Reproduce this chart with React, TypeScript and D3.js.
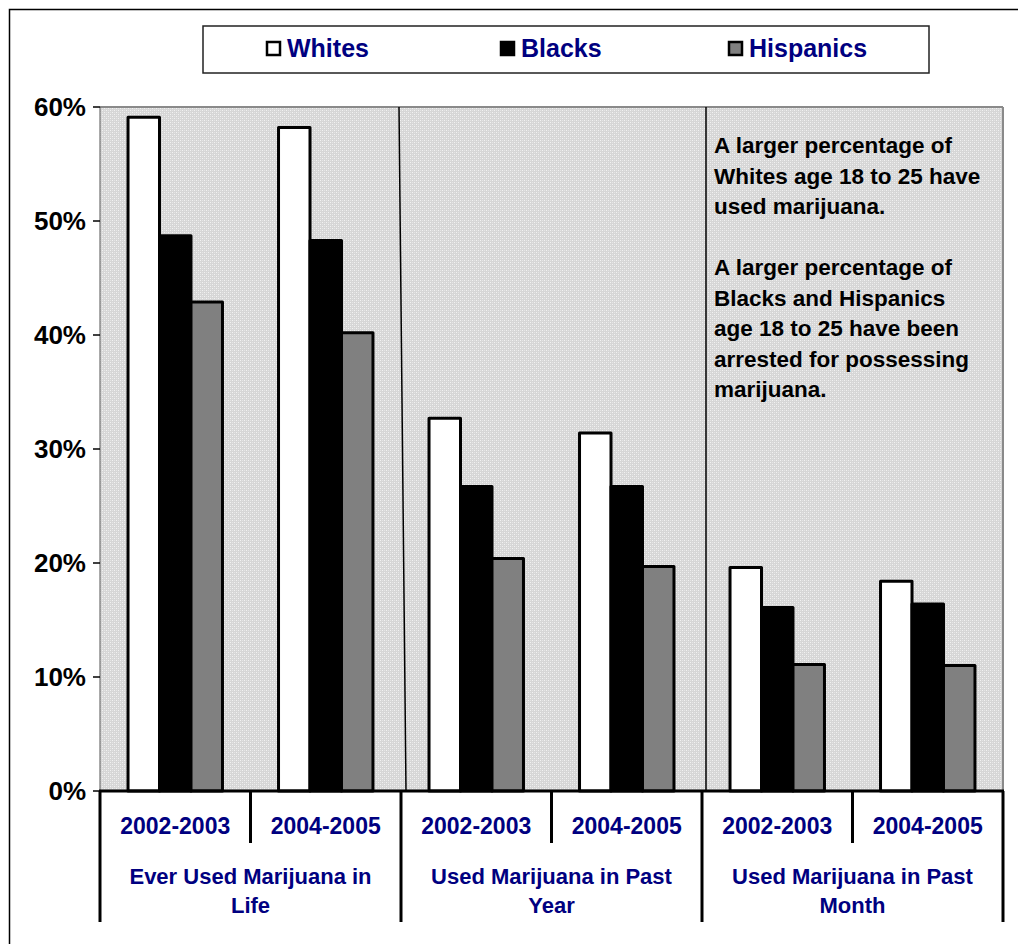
import React from "react";
import * as d3 from "d3";

// Marijuana use among people age 18 to 25, by race/ethnicity
const measures = ["Ever Used Marijuana in|Life", "Used Marijuana in Past|Year", "Used Marijuana in Past|Month"];
const periods = ["2002-2003", "2004-2005"];
const seriesNames = ["Whites", "Blacks", "Hispanics"];
const whites = [59.1, 58.2, 32.7, 31.4, 19.6, 18.4];
const blacks = [48.7, 48.3, 26.7, 26.7, 16.1, 16.4];
const hispanics = [42.9, 40.2, 20.4, 19.7, 11.1, 11.0];
const yTicks = [0, 10, 20, 30, 40, 50, 60];
const noteLines = [
  "A larger percentage of",
  "Whites age 18 to 25 have",
  "used marijuana.",
  "",
  "A larger percentage of",
  "Blacks and Hispanics",
  "age 18 to 25 have been",
  "arrested for possessing",
  "marijuana.",
];

const seriesValues = [whites, blacks, hispanics];
const seriesFill = ["#ffffff", "#000000", "#808080"];
const NAVY = "#000080";
const FONT = "Arial, 'Liberation Sans', Helvetica, sans-serif";

const W = 1018;
const H = 944;
const left = 100;
const right = 1003;
const top = 107;
const bottom = 791;

export default function App() {
  const cells = measures.flatMap((m, mi) => periods.map((p) => `${mi}|${p}`));
  const x = d3.scaleBand<string>().domain(cells).range([left, right]).paddingInner(0).paddingOuter(0);
  const inner = d3
    .scaleBand<string>()
    .domain(seriesNames)
    .range([0, x.bandwidth()])
    .paddingInner(0)
    .paddingOuter(0.89);
  const y = d3.scaleLinear().domain([0, 60]).range([bottom, top]);
  const groupW = x.bandwidth() * periods.length;

  return (
    <svg
      width={W}
      height={H}
      style={{ position: "absolute", left: 0, top: 0, display: "block", background: "#fff" }}
      fontFamily={FONT}
    >
      <defs>
        <pattern id="dots" width={4} height={4} patternUnits="userSpaceOnUse">
          <rect width={4} height={4} fill="#d6d6d6" />
          <rect x={0} y={0} width={1} height={1} fill="#f2f2f2" />
          <rect x={2} y={2} width={1} height={1} fill="#f2f2f2" />
          <rect x={2} y={0} width={1} height={1} fill="#e4e4e4" />
          <rect x={0} y={2} width={1} height={1} fill="#e4e4e4" />
        </pattern>
      </defs>

      {/* outer frame */}
      <rect x={9.5} y={9.5} width={1100} height={1000} fill="none" stroke="#000" strokeWidth={1.5} />

      {/* legend */}
      <rect x={203} y={26} width={726} height={47} fill="#fff" stroke="#222" strokeWidth={1.5} />
      {seriesNames.map((s, i) => {
        const lx = [267, 501, 729][i];
        return (
          <g key={s}>
            <rect x={lx} y={42} width={13} height={13} fill={seriesFill[i]} stroke="#000" strokeWidth={2.5} />
            <text x={lx + 20} y={57} fontSize={25} fontWeight="bold" fill={NAVY}>
              {s}
            </text>
          </g>
        );
      })}

      {/* plot area */}
      <rect x={left} y={top} width={right - left} height={bottom - top} fill="url(#dots)" />
      <line x1={left} x2={right} y1={top} y2={top} stroke="#8a8a8a" strokeWidth={2} />
      <line x1={right} x2={right} y1={top} y2={bottom} stroke="#8a8a8a" strokeWidth={2} />
      <line x1={left} x2={left} y1={top} y2={bottom} stroke="#555" strokeWidth={1} />

      {/* section dividers */}
      <line x1={399} y1={top} x2={406} y2={bottom} stroke="#000" strokeWidth={1.5} />
      <line x1={706} y1={top} x2={706} y2={bottom} stroke="#000" strokeWidth={1.5} />

      {/* bars */}
      {seriesValues.map((vals, si) =>
        vals.map((v, ci) => (
          <rect
            key={`${si}-${ci}`}
            x={(x(cells[ci]) ?? 0) + (inner(seriesNames[si]) ?? 0)}
            y={y(v)}
            width={inner.bandwidth()}
            height={bottom - y(v)}
            fill={seriesFill[si]}
            stroke="#000"
            strokeWidth={3}
            strokeLinejoin="round"
          />
        ))
      )}

      {/* y axis */}
      {yTicks.map((t) => (
        <g key={t}>
          <line x1={left - 7} x2={left} y1={y(t)} y2={y(t)} stroke="#000" strokeWidth={1.5} />
          <text x={left - 14} y={y(t) + 9} fontSize={26} fontWeight="bold" textAnchor="end" fill="#000">
            {`${t}%`}
          </text>
        </g>
      ))}

      {/* category axis */}
      <line x1={left - 1} x2={right + 1} y1={bottom} y2={bottom} stroke="#000" strokeWidth={3} />
      {cells.map((c, ci) => {
        const cx = (x(c) ?? 0) + x.bandwidth() / 2;
        return (
          <text key={c} x={cx} y={834} fontSize={23} fontWeight="bold" textAnchor="middle" fill={NAVY}>
            {periods[ci % periods.length]}
          </text>
        );
      })}
      {cells.map((c, ci) =>
        ci % periods.length === 1 ? (
          <line key={`t${c}`} x1={x(c) ?? 0} x2={x(c) ?? 0} y1={bottom} y2={843} stroke="#000" strokeWidth={3} />
        ) : null
      )}
      {measures.map((m, mi) => {
        const gx = left + mi * groupW;
        const [l1, l2] = m.split("|");
        return (
          <g key={m}>
            <line x1={gx} x2={gx} y1={bottom} y2={922} stroke="#000" strokeWidth={3} />
            <text x={gx + groupW / 2} y={884} fontSize={22} fontWeight="bold" textAnchor="middle" fill={NAVY}>
              {l1}
            </text>
            <text x={gx + groupW / 2} y={913} fontSize={22} fontWeight="bold" textAnchor="middle" fill={NAVY}>
              {l2}
            </text>
          </g>
        );
      })}
      <line x1={right} x2={right} y1={bottom} y2={922} stroke="#000" strokeWidth={3} />

      {/* note */}
      {noteLines.map((ln, i) =>
        ln ? (
          <text key={i} x={714} y={153 + i * 30.5} fontSize={22.5} fontWeight="bold" fill="#000">
            {ln}
          </text>
        ) : null
      )}
    </svg>
  );
}
